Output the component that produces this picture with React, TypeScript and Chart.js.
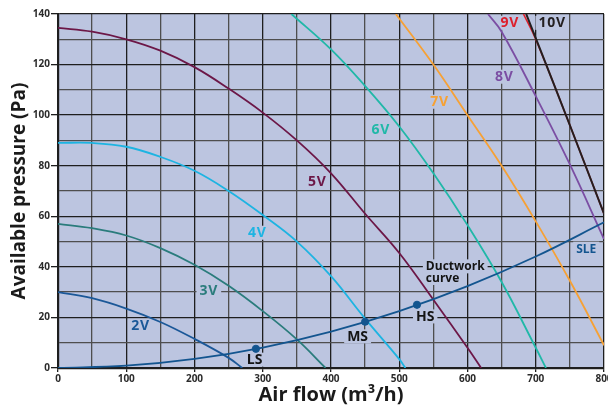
import React, { useEffect, useRef } from "react";
import { Chart, registerables } from "chart.js";

Chart.register(...registerables);

// Air flow (m3/h) / available pressure (Pa) readings per fan voltage
const curve2V = [[0, 30], [50, 27.6], [100, 23.5], [150, 18.2], [200, 11.5], [250, 4], [270, 0]];
const curve3V = [[0, 57], [50, 55.3], [100, 52.4], [150, 47.4], [200, 40.8], [250, 32.5], [300, 22.5], [350, 11.3], [392, 0]];
const curve4V = [[0, 89], [50, 89], [100, 87.5], [150, 83.5], [200, 78], [250, 70], [300, 60.5], [350, 50], [400, 36.3], [450, 19.5], [500, 3.5], [509, 0]];
const curve5V = [[0, 134.5], [50, 133], [100, 130], [150, 125.5], [200, 119], [250, 110.5], [300, 101], [350, 90], [400, 77], [450, 61], [500, 45.5], [550, 27], [600, 8], [620, 0]];
const curve6V = [[342, 140], [400, 126], [450, 111.5], [500, 95.5], [550, 77], [600, 56.5], [650, 34], [700, 8], [715, 0]];
const curve7V = [[495, 140], [550, 120], [600, 100], [650, 80], [700, 58], [750, 34.5], [800, 9]];
const curve8V = [[630, 140], [650, 133], [700, 107.5], [750, 80.5], [800, 51]];
const curve9V = [[682, 140], [700, 130], [750, 96], [800, 61]];
const curve10V = [[686, 140], [700, 130.5], [750, 96], [800, 61]];
const ductwork = [[0, 0], [100, 0.9], [200, 3.6], [300, 8.1], [400, 14.4], [500, 22.5], [600, 32.4], [700, 44.1], [800, 57.6]];
const operatingPoints = [[290, 7.6], [450, 18.3], [526, 25]];

const xTicks = [0, 100, 200, 300, 400, 500, 600, 700, 800];
const yTicks = [0, 20, 40, 60, 80, 100, 120, 140];

// text annotations: [text, flow, pressure]
const curveLabels: [string, number, number][] = [
  ["2V", 121, 16.7],
  ["3V", 221, 30.6],
  ["4V", 292, 53.5],
  ["5V", 380, 73.6],
  ["6V", 473, 94.2],
  ["7V", 559, 105.3],
  ["8V", 654, 115.2],
  ["9V", 662, 136.5],
  ["10V", 724, 136.5],
];
const pointLabels: [string, number, number][] = [
  ["LS", 288, 3.3],
  ["MS", 439, 12.5],
  ["HS", 538, 20.4],
];
const ductLabelLines = ["Ductwork", "curve"];
const ductLabelAnchor = [539, 40.2];
const sleLabel: [string, number, number] = ["SLE", 774, 47.2];

const COLORS: Record<string, string> = {
  "2V": "#1b5898",
  "3V": "#2a7c7c",
  "4V": "#1db4e2",
  "5V": "#6c1747",
  "6V": "#20b8a8",
  "7V": "#f6a135",
  "8V": "#7b4ea3",
  "9V": "#dd1f2b",
  "10V": "#231f20",
};
const DUCT = "#13558f";
const PLOT_BG = "#bcc5e0";
const MAJOR = "#1e1e1e";
const MINOR = "#4e4e4e";

const toXY = (arr: number[][]) => arr.map(([x, y]) => ({ x, y }));

export default function App() {
  const ref = useRef<HTMLCanvasElement | null>(null);

  useEffect(() => {
    if (!ref.current) return;

    const bgPlugin = {
      id: "plotBg",
      beforeDraw(chart: any) {
        const { ctx, chartArea: a } = chart;
        ctx.save();
        ctx.fillStyle = PLOT_BG;
        ctx.fillRect(a.left, a.top, a.right - a.left, a.bottom - a.top);
        ctx.restore();
      },
    };

    const labelPlugin = {
      id: "labels",
      beforeDatasetsDraw(chart: any) {
        const { ctx } = chart;
        const xs = chart.scales.x;
        const ys = chart.scales.y;
        const draw = (text: string, fx: number, fy: number, font: string, color: string, align: CanvasTextAlign = "center", spacing = "0px") => {
          const px = xs.getPixelForValue(fx);
          const py = ys.getPixelForValue(fy);
          ctx.save();
          ctx.font = font;
          (ctx as any).letterSpacing = spacing;
          const w = ctx.measureText(text).width;
          const left = align === "center" ? px - w / 2 : px;
          ctx.fillStyle = PLOT_BG;
          ctx.fillRect(left - 3, py - 7, w + 6, 14);
          ctx.fillStyle = color;
          ctx.textAlign = "left";
          ctx.textBaseline = "middle";
          ctx.fillText(text, left, py + 0.5);
          ctx.restore();
        };
        curveLabels.forEach(([t, x, y]) => draw(t, x, y, "bold 14px 'Open Sans'", COLORS[t], "center", "0.8px"));
        pointLabels.forEach(([t, x, y]) => draw(t, x, y, "bold 14px 'Open Sans'", "#141414"));
        ductLabelLines.forEach((t, i) => draw(t, ductLabelAnchor[0], ductLabelAnchor[1] - i * 4.6, "bold 12px 'Open Sans'", "#141414", "left"));
        draw(sleLabel[0], sleLabel[1], sleLabel[2], "bold 12px 'Open Sans'", DUCT);
      },
    };

    const mk = (name: string, arr: number[][], width = 1.8) => ({
      label: name,
      data: toXY(arr),
      borderColor: COLORS[name],
      borderWidth: width,
      pointRadius: 0,
      fill: false,
      tension: 0.4,
    });

    const chart = new Chart(ref.current, {
      type: "line",
      data: {
        datasets: [
          {
            label: "points",
            data: toXY(operatingPoints),
            showLine: false,
            pointRadius: 3.6,
            pointBackgroundColor: DUCT,
            pointBorderColor: DUCT,
            borderColor: DUCT,
          } as any,
          {
            label: "duct",
            data: toXY(ductwork),
            borderColor: DUCT,
            borderWidth: 1.8,
            pointRadius: 0,
            tension: 0.4,
          },
          mk("2V", curve2V),
          mk("3V", curve3V),
          mk("4V", curve4V),
          mk("5V", curve5V),
          mk("6V", curve6V),
          mk("7V", curve7V),
          mk("8V", curve8V),
          mk("10V", curve10V, 2),
          mk("9V", curve9V, 1.6),
        ],
      },
      options: {
        responsive: false,
        animation: false,
        layout: { padding: { top: 14, right: 26, left: 0, bottom: 0 } },
        plugins: { legend: { display: false }, tooltip: { enabled: false } },
        scales: {
          x: {
            type: "linear",
            min: 0,
            max: 800,
            afterFit(scale: any) {
              scale.height = 42;
            },
            afterBuildTicks(scale: any) {
              const t: any[] = [];
              for (let v = 0; v <= 800; v += 50) t.push({ value: v });
              scale.ticks = t;
            },
            ticks: {
              autoSkip: false,
              maxRotation: 0,
              padding: 1,
              color: "#2b2b2b",
              font: { family: "'Open Sans'", weight: "bold", size: 10 },
              callback: (v: any) => (xTicks.includes(Number(v)) ? String(v) : ""),
            },
            grid: {
              color: (c: any) => (c.tick && c.tick.value % 100 === 0 ? MAJOR : MINOR),
              lineWidth: 1.3,
              tickLength: 4,
              tickColor: (c: any) => (c.tick && c.tick.value % 100 === 0 ? MAJOR : "rgba(0,0,0,0)"),
            },
            border: { color: MAJOR, width: 2.2 },
            title: {
              display: true,
              text: "Air flow (m³/h)",
              color: "#1a1a1a",
              font: { family: "'Open Sans'", weight: "bold", size: 20 },
              padding: { top: 0, bottom: 3 },
            },
          },
          y: {
            type: "linear",
            min: 0,
            max: 140,
            afterFit(scale: any) {
              scale.width = 58;
            },
            afterBuildTicks(scale: any) {
              const t: any[] = [];
              for (let v = 0; v <= 140; v += 10) t.push({ value: v });
              scale.ticks = t;
            },
            ticks: {
              autoSkip: false,
              padding: 1,
              color: "#2b2b2b",
              font: { family: "'Open Sans'", weight: "bold", size: 10 },
              callback: (v: any) => (yTicks.includes(Number(v)) ? String(v) : ""),
            },
            grid: {
              color: (c: any) => (c.tick && c.tick.value % 20 === 0 ? MAJOR : MINOR),
              lineWidth: 1.3,
              tickLength: 7,
              tickColor: (c: any) => (c.tick && c.tick.value % 20 === 0 ? MAJOR : "rgba(0,0,0,0)"),
            },
            border: { color: MAJOR, width: 2.2 },
            title: {
              display: true,
              text: "Available pressure (Pa)",
              color: "#1a1a1a",
              font: { family: "'Open Sans'", weight: "bold", size: 19 },
              padding: { top: 8, bottom: 0 },
            },
          },
        },
      },
      plugins: [bgPlugin, labelPlugin],
    } as any);

    return () => chart.destroy();
  }, []);

  return (
    <div style={{ position: "fixed", left: 0, top: 0, width: 608, height: 410, overflow: "hidden", background: "#ffffff" }}>
      <canvas ref={ref} width={630} height={410} style={{ display: "block", width: 630, height: 410 }} />
    </div>
  );
}
